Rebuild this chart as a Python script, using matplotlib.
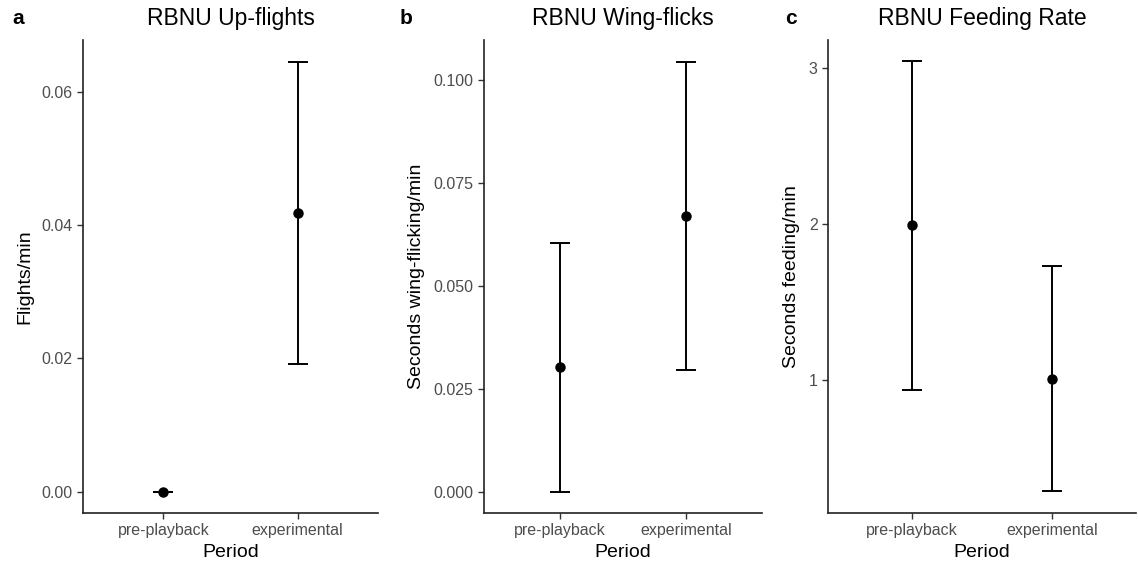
import matplotlib
matplotlib.use("Agg")
import matplotlib.pyplot as plt
import numpy as np

periods = ["pre-playback", "experimental"]

upflights_mean = [0.0, 0.0418]
upflights_low = [0.0, 0.0192]
upflights_high = [0.0, 0.0645]

wingflicks_mean = [0.0302, 0.0668]
wingflicks_low = [0.0, 0.0295]
wingflicks_high = [0.0604, 0.1044]

feeding_mean = [1.99, 1.005]
feeding_low = [0.935, 0.281]
feeding_high = [3.042, 1.731]

titles = ["RBNU Up-flights", "RBNU Wing-flicks", "RBNU Feeding Rate"]
tags = ["a", "b", "c"]
ylabels = ["Flights/min", "Seconds wing-flicking/min", "Seconds feeding/min"]
yticks = [[0.00, 0.02, 0.04, 0.06], [0.000, 0.025, 0.050, 0.075, 0.100], [1, 2, 3]]
yticklabels = [["0.00", "0.02", "0.04", "0.06"],
               ["0.000", "0.025", "0.050", "0.075", "0.100"],
               ["1", "2", "3"]]

plt.rcParams['font.family'] = ['Liberation Sans', 'DejaVu Sans']

fig = plt.figure(figsize=(11.38, 5.67), dpi=100)
W, H = 1138, 567
boxes = [(83, 378), (484, 762), (828, 1136)]
tag_x = [12, 400, 785]
top, bottom = 40, 513

data = [(upflights_mean, upflights_low, upflights_high),
        (wingflicks_mean, wingflicks_low, wingflicks_high),
        (feeding_mean, feeding_low, feeding_high)]

for i, ((l, r), (m, lo, hi)) in enumerate(zip(boxes, data)):
    ax = fig.add_axes([l / W, 1 - bottom / H, (r - l) / W, (bottom - top) / H])
    x = np.arange(1, len(periods) + 1)
    m = np.array(m); lo = np.array(lo); hi = np.array(hi)
    ax.errorbar(x, m, yerr=[m - lo, hi - m], fmt='o', color='black',
                ecolor='black', elinewidth=1.4, capsize=7, capthick=1.4,
                markersize=6.5)
    ax.set_xlim(0.4, 2.6)
    allv = np.concatenate([lo, hi])
    vmin, vmax = allv.min(), allv.max()
    pad = (vmax - vmin) * 0.05
    ax.set_ylim(vmin - pad, vmax + pad)
    ax.set_xticks(x)
    ax.set_xticklabels(periods, fontsize=11.5, color='#4D4D4D')
    ax.set_yticks(yticks[i])
    ax.set_yticklabels(yticklabels[i], fontsize=11.5, color='#4D4D4D')
    ax.tick_params(axis='both', length=4, width=1, color='#333333', pad=3.5)
    for s in ['top', 'right']:
        ax.spines[s].set_visible(False)
    for s in ['left', 'bottom']:
        ax.spines[s].set_linewidth(1.2)
        ax.spines[s].set_color('#222222')
    ax.set_xlabel("Period", fontsize=14, labelpad=4)
    ax.set_ylabel(ylabels[i], fontsize=14, labelpad=6)
    ax.set_title(titles[i], fontsize=16.5, pad=11)
    fig.text(tag_x[i] / W, 1 - 19 / H, tags[i], fontsize=15, fontweight='bold', va='center')

fig.savefig("out.png", dpi=100)
